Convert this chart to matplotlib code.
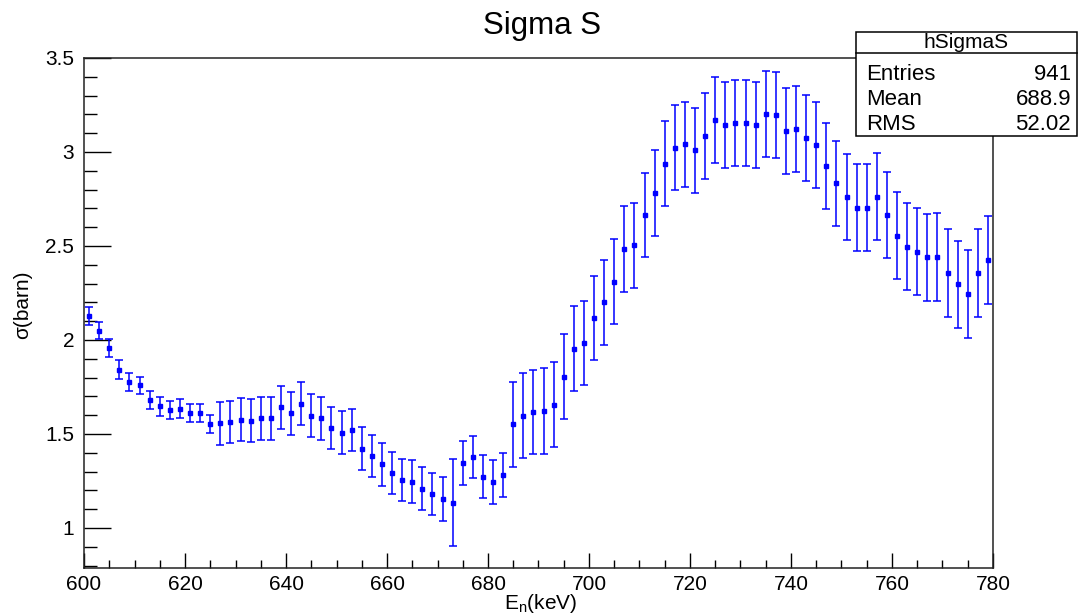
import numpy as np
import matplotlib as mpl

mpl.use('Agg')

import matplotlib.pyplot as plt
from matplotlib.ticker import MultipleLocator

plt.rcParams['font.family'] = ['Liberation Sans', 'DejaVu Sans']
plt.rcParams['mathtext.default'] = 'regular'

# histogram bins: 2 keV wide, 600 - 780 keV
bin_edges = np.arange(600, 781, 2)
energy = 0.5 * (bin_edges[:-1] + bin_edges[1:])

sigma = [2.128, 2.050, 1.959, 1.842, 1.778, 1.759, 1.681, 1.647, 1.629, 1.635,
         1.610, 1.610, 1.552, 1.557, 1.564, 1.576, 1.571, 1.583, 1.583, 1.642,
         1.610, 1.661, 1.597, 1.583, 1.532, 1.507, 1.520, 1.422, 1.383, 1.339,
         1.293, 1.254, 1.246, 1.209, 1.182, 1.156, 1.135, 1.344, 1.378, 1.273,
         1.247, 1.280, 1.552, 1.597, 1.615, 1.622, 1.656, 1.805, 1.954, 1.986,
         2.115, 2.200, 2.310, 2.484, 2.504, 2.665, 2.782, 2.938, 3.023, 3.041,
         3.009, 3.087, 3.172, 3.145, 3.153, 3.153, 3.145, 3.204, 3.197, 3.113,
         3.121, 3.074, 3.036, 2.926, 2.833, 2.762, 2.704, 2.704, 2.762, 2.665,
         2.555, 2.496, 2.470, 2.440, 2.440, 2.355, 2.296, 2.245, 2.355, 2.426]

sigma_err = [0.048, 0.047, 0.048, 0.049, 0.049, 0.045, 0.048, 0.049, 0.049, 0.050,
             0.048, 0.048, 0.049,
             0.114, 0.111, 0.114, 0.114, 0.115, 0.114, 0.114, 0.114, 0.113, 0.114,
             0.113, 0.114, 0.114, 0.113, 0.113, 0.113, 0.115, 0.110, 0.113, 0.114,
             0.113, 0.113, 0.117,
             0.230,
             0.118, 0.113, 0.115, 0.117, 0.117,
             0.226, 0.226, 0.223, 0.227, 0.227, 0.227, 0.227, 0.223,
             0.223, 0.228, 0.227, 0.227, 0.227, 0.225, 0.227, 0.227,
             0.227, 0.226, 0.227, 0.229, 0.229, 0.229, 0.229, 0.229,
             0.229, 0.229, 0.229, 0.228, 0.230, 0.230, 0.230, 0.230,
             0.228, 0.229, 0.231, 0.230, 0.231, 0.230, 0.230, 0.231,
             0.232, 0.232, 0.233, 0.234, 0.233, 0.233, 0.234, 0.232]

stat_names = ['Entries', 'Mean', 'RMS']
stat_values = ['941', '688.9', '52.02']

fig = plt.figure(figsize=(10.87, 6.15), dpi=100)
ax = fig.add_axes([0.0773, 0.0764, 0.8362, 0.8293])

ax.errorbar(energy, sigma, yerr=sigma_err, fmt='s', color='#0000ff',
            ms=2.8, elinewidth=1.1, capsize=2.6, capthick=1.1)

ax.set_xlim(600, 780)
ax.set_ylim(0.787, 3.5)
ax.xaxis.set_major_locator(MultipleLocator(20))
ax.xaxis.set_minor_locator(MultipleLocator(5))
ax.yaxis.set_major_locator(MultipleLocator(0.5))
ax.yaxis.set_minor_locator(MultipleLocator(0.1))
ax.yaxis.set_major_formatter(mpl.ticker.FuncFormatter(lambda v, p: '%g' % v))

# ROOT style ticks: inside, only left and bottom
ax.tick_params(axis='both', which='both', direction='in', labelsize=15,
               width=1, color='black')
ax.tick_params(axis='y', which='major', length=19.4, pad=7)
ax.tick_params(axis='y', which='minor', length=9.7)
ax.tick_params(axis='x', which='major', length=11, pad=5)
ax.tick_params(axis='x', which='minor', length=5.5)
for s in ax.spines.values():
    s.set_linewidth(1.1)
    s.set_color('#222222')

fig.text(0.497, 0.0195, r'E$_{n}$(keV)', ha='center', va='center', fontsize=15)
fig.text(0.021, 0.505, 'σ(barn)', ha='center', va='center', rotation=90,
         fontsize=15)
fig.text(0.499, 0.958, 'Sigma S', ha='center', va='center', fontsize=22.5)

# stats box
bx0, bx1 = 856 / 1087, 1077 / 1087
by0, by1 = 1 - 136 / 615, 1 - 32 / 615
ysep = 1 - 53 / 615
box = plt.Rectangle((bx0, by0), bx1 - bx0, by1 - by0, transform=fig.transFigure,
                    facecolor='white', edgecolor='black', lw=1.1, zorder=5)
fig.patches.append(box)
fig.add_artist(plt.Line2D([bx0, bx1], [ysep, ysep], transform=fig.transFigure,
                          color='black', lw=1.1, zorder=6))
fig.text(0.5 * (bx0 + bx1), 1 - 43 / 615, 'hSigmaS', ha='center', va='center',
         fontsize=15, zorder=7)
for i, (n, v) in enumerate(zip(stat_names, stat_values)):
    yy = 1 - (74 + 25.5 * i) / 615
    fig.text(866 / 1087, yy, n, ha='left', va='center', fontsize=16, zorder=7)
    fig.text(1071 / 1087, yy, v, ha='right', va='center', fontsize=16, zorder=7)

plt.savefig('out.png', dpi=100)
